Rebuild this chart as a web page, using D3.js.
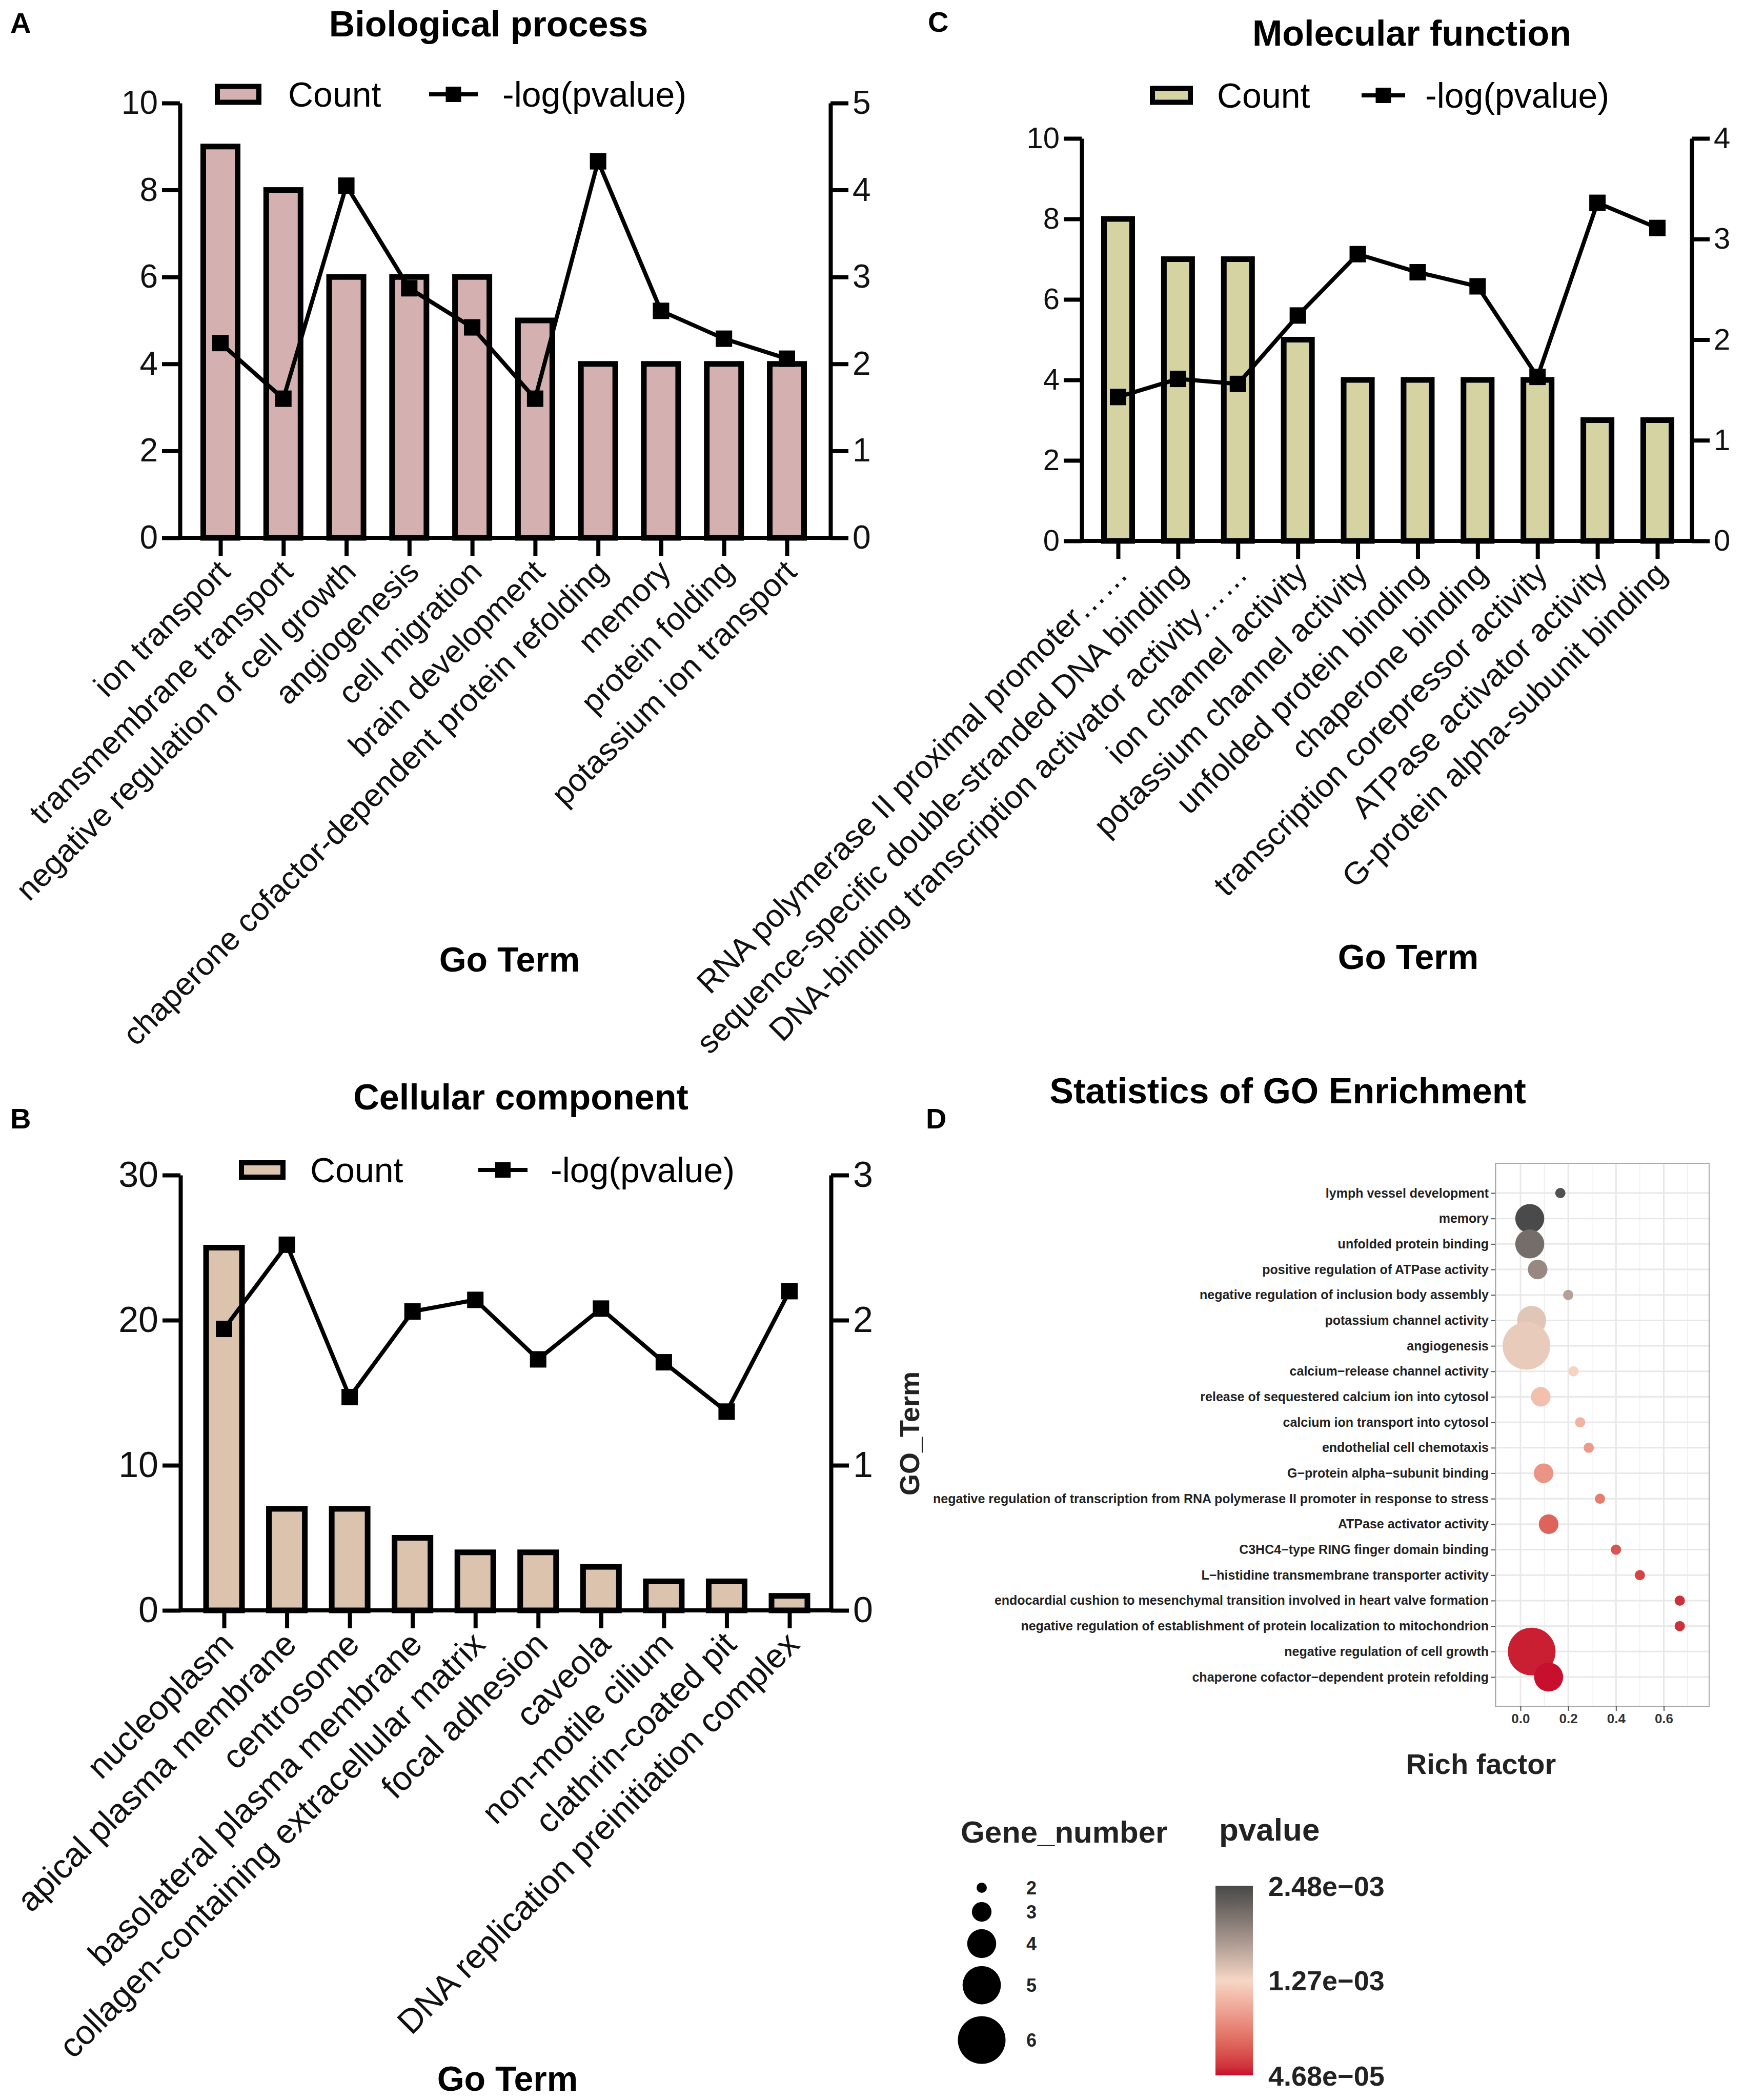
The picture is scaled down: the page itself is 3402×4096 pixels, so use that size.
<!DOCTYPE html>
<html>
<head>
<meta charset="UTF-8">
<script src="https://d3js.org/d3.v7.min.js"></script>
<style>
  body { margin: 0; background: #fff; }
  svg { display: block; font-family: "Liberation Sans", Arial, sans-serif; }
</style>
</head>
<body>
<div id="fig"></div>
<script>
// ---- A: biological process
const bpTerms = ["ion transport", "transmembrane transport", "negative regulation of cell growth",
  "angiogenesis", "cell migration", "brain development", "chaperone cofactor-dependent protein refolding",
  "memory", "protein folding", "potassium ion transport"];
const bpCount = [9, 8, 6, 6, 6, 5, 4, 4, 4, 4];
const bpLogP = [2.24, 1.60, 4.05, 2.87, 2.42, 1.60, 4.33, 2.61, 2.29, 2.06];

// ---- B: cellular component
const ccTerms = ["nucleoplasm", "apical plasma membrane", "centrosome", "basolateral plasma membrane",
  "collagen-containing extracellular matrix", "focal adhesion", "caveola", "non-motile cilium",
  "clathrin-coated pit", "DNA replication preinitiation complex"];
const ccCount = [25, 7, 7, 5, 4, 4, 3, 2, 2, 1];
const ccLogP = [1.94, 2.52, 1.47, 2.06, 2.14, 1.73, 2.08, 1.71, 1.37, 2.20];

// ---- C: molecular function
const mfTerms = ["RNA polymerase II proximal promoter……", "sequence-specific double-stranded DNA binding",
  "DNA-binding transcription activator activity……", "ion channel activity", "potassium channel activity",
  "unfolded protein binding", "chaperone binding", "transcription corepressor activity",
  "ATPase activator activity", "G-protein alpha-subunit binding"];
const mfCount = [8, 7, 7, 5, 4, 4, 4, 4, 3, 3];
const mfLogP = [1.43, 1.61, 1.56, 2.24, 2.85, 2.67, 2.53, 1.63, 3.36, 3.11];

// ---- D: GO enrichment dot plot (top to bottom)
const goTerms = ["lymph vessel development", "memory", "unfolded protein binding",
  "positive regulation of ATPase activity", "negative regulation of inclusion body assembly",
  "potassium channel activity", "angiogenesis", "calcium−release channel activity",
  "release of sequestered calcium ion into cytosol", "calcium ion transport into cytosol",
  "endothelial cell chemotaxis", "G−protein alpha−subunit binding",
  "negative regulation of transcription from RNA polymerase II promoter in response to stress",
  "ATPase activator activity", "C3HC4−type RING finger domain binding",
  "L−histidine transmembrane transporter activity",
  "endocardial cushion to mesenchymal transition involved in heart valve formation",
  "negative regulation of establishment of protein localization to mitochondrion",
  "negative regulation of cell growth", "chaperone cofactor−dependent protein refolding"];
const goRich = [0.167, 0.039, 0.039, 0.072, 0.2, 0.047, 0.025, 0.222, 0.085, 0.25,
  0.286, 0.097, 0.333, 0.118, 0.4, 0.5, 0.667, 0.667, 0.047, 0.118];
const goGenes = [2, 4, 4, 3, 2, 4, 6, 2, 3, 2, 2, 3, 2, 3, 2, 2, 2, 2, 6, 4];
const goPval = [2.40e-3, 2.46e-3, 2.14e-3, 1.90e-3, 1.70e-3, 1.40e-3, 1.35e-3, 1.25e-3, 1.10e-3, 1.0e-3,
  8.2e-4, 7.8e-4, 6.2e-4, 4.4e-4, 3.5e-4, 2.5e-4, 1.5e-4, 1.5e-4, 8.5e-5, 4.68e-5];
const richTicks = [0, 0.2, 0.4, 0.6];
const richMinor = [-0.1, 0.1, 0.3, 0.5, 0.7];
const sizeBreaks = [2, 3, 4, 5, 6];
const pvalBreaks = [2.48e-3, 1.27e-3, 4.68e-5];
const pvalLabels = ["2.48e−03", "1.27e−03", "4.68e−05"];

const W = 3402, H = 4096;
const svg = d3.select("#fig").append("svg").attr("width", W).attr("height", H);
svg.append("rect").attr("width", W).attr("height", H).attr("fill", "#fff");

const SW = 11; // bar outline

function drawCombo(p) {
  const g = svg.append("g");
  const x = d3.scalePoint().domain(p.terms).range([p.x0, p.x1]);
  const yL = d3.scaleLinear().domain([0, p.leftMax]).range([p.yBot, p.yTop]);
  const yR = d3.scaleLinear().domain([0, p.rightMax]).range([p.yBot, p.yTop]);

  g.append("text").attr("x", p.letterX).attr("y", p.letterY)
    .attr("font-size", 56).attr("font-weight", "bold").text(p.letter);
  g.append("text").attr("x", p.titleX).attr("y", p.titleY).attr("text-anchor", "middle")
    .attr("font-size", 70).attr("font-weight", "bold").text(p.title);

  // bars
  g.selectAll("rect.bar").data(p.terms).join("rect").attr("class", "bar")
    .attr("x", d => x(d) - (p.barW - SW) / 2)
    .attr("y", (d, i) => yL(p.count[i]))
    .attr("width", p.barW - SW)
    .attr("height", (d, i) => p.yBot - yL(p.count[i]))
    .attr("fill", p.fill).attr("stroke", "#000").attr("stroke-width", SW);

  // axes
  const styleAxis = (ax, fs) => {
    ax.attr("font-family", null).attr("font-size", fs);
    ax.select(".domain").attr("stroke", "#000").attr("stroke-width", 8);
    ax.selectAll(".tick line").attr("stroke", "#000").attr("stroke-width", 8);
    ax.selectAll(".tick text").attr("fill", "#111");
  };
  const axL = g.append("g").attr("transform", `translate(${p.axL},0)`)
    .call(d3.axisLeft(yL).tickValues(p.leftTicks).tickFormat(d3.format("d"))
      .tickSize(35).tickSizeOuter(0).tickPadding(8));
  styleAxis(axL, p.tickFont);
  const axR = g.append("g").attr("transform", `translate(${p.axR},0)`)
    .call(d3.axisRight(yR).tickValues(p.rightTicks).tickFormat(d3.format("d"))
      .tickSize(35).tickSizeOuter(0).tickPadding(8));
  styleAxis(axR, p.tickFont);

  g.append("line").attr("x1", p.axL).attr("x2", p.axR).attr("y1", p.yBot).attr("y2", p.yBot)
    .attr("stroke", "#000").attr("stroke-width", 8);
  const axB = g.append("g").attr("transform", `translate(0,${p.yBot})`)
    .call(d3.axisBottom(x).tickSize(35).tickSizeOuter(0));
  axB.select(".domain").remove();
  axB.attr("font-family", null).attr("font-size", p.labelFont);
  axB.selectAll(".tick line").attr("stroke", "#000").attr("stroke-width", 8);
  axB.selectAll(".tick text").attr("fill", "#111")
    .attr("x", 0).attr("y", 0).attr("dy", null)
    .attr("text-anchor", "end")
    .attr("transform", `translate(${p.lblDx},${p.lblDy}) rotate(-45)`);

  // -log(pvalue) line
  const line = d3.line().x((d, i) => x(p.terms[i])).y(d => yR(d));
  g.append("path").datum(p.logp).attr("d", line)
    .attr("fill", "none").attr("stroke", "#000").attr("stroke-width", 8).attr("stroke-linejoin", "miter");
  g.selectAll("rect.mk").data(p.logp).join("rect").attr("class", "mk")
    .attr("x", (d, i) => x(p.terms[i]) - 16).attr("y", d => yR(d) - 16)
    .attr("width", 32).attr("height", 32).attr("fill", "#000");

  // legend
  const L = p.legend;
  g.append("rect").attr("x", L.boxX + 5).attr("y", L.cy - L.boxH / 2 + 5)
    .attr("width", L.boxW - 10).attr("height", L.boxH - 10)
    .attr("fill", p.fill).attr("stroke", "#000").attr("stroke-width", 10);
  g.append("text").attr("x", L.countX).attr("y", L.cy + 24).attr("font-size", 68).text("Count");
  g.append("line").attr("x1", L.lineX0).attr("x2", L.lineX1).attr("y1", L.cy).attr("y2", L.cy)
    .attr("stroke", "#000").attr("stroke-width", 8);
  g.append("rect").attr("x", (L.lineX0 + L.lineX1) / 2 - 15).attr("y", L.cy - 15)
    .attr("width", 30).attr("height", 30).attr("fill", "#000");
  g.append("text").attr("x", L.logX).attr("y", L.cy + 24).attr("font-size", 68).text("-log(pvalue)");

  g.append("text").attr("x", p.goX).attr("y", p.goY).attr("text-anchor", "middle")
    .attr("font-size", 68).attr("font-weight", "bold").text("Go Term");
}

drawCombo({
  letter: "A", letterX: 20, letterY: 64, title: "Biological process", titleX: 953, titleY: 71,
  terms: bpTerms, count: bpCount, logp: bpLogP, fill: "#d5b0b0",
  axL: 351, axR: 1620, yTop: 201, yBot: 1049, x0: 430, x1: 1535, barW: 78,
  leftMax: 10, leftTicks: [0, 2, 4, 6, 8, 10], rightMax: 5, rightTicks: [0, 1, 2, 3, 4, 5],
  tickFont: 64, labelFont: 62, lblDx: 22, lblDy: 70,
  legend: { boxX: 419, boxW: 91, boxH: 41, cy: 184, countX: 562, lineX0: 837, lineX1: 932, logX: 980 },
  goX: 994, goY: 1895
});

drawCombo({
  letter: "C", letterX: 1810, letterY: 62, title: "Molecular function", titleX: 2754, titleY: 89,
  terms: mfTerms, count: mfCount, logp: mfLogP, fill: "#d6d3a2",
  axL: 2110, axR: 3300, yTop: 270, yBot: 1055, x0: 2181, x1: 3233, barW: 66,
  leftMax: 10, leftTicks: [0, 2, 4, 6, 8, 10], rightMax: 4, rightTicks: [0, 1, 2, 3, 4],
  tickFont: 58, labelFont: 62, lblDx: 22, lblDy: 68,
  legend: { boxX: 2243, boxW: 84, boxH: 37, cy: 186, countX: 2374, lineX0: 2656, lineX1: 2741, logX: 2780 },
  goX: 2747, goY: 1890
});

drawCombo({
  letter: "B", letterX: 20, letterY: 2201, title: "Cellular component", titleX: 1016, titleY: 2164,
  terms: ccTerms, count: ccCount, logp: ccLogP, fill: "#dbc3ae",
  axL: 352, axR: 1621, yTop: 2292, yBot: 3141, x0: 437, x1: 1540, barW: 81,
  leftMax: 30, leftTicks: [0, 10, 20, 30], rightMax: 3, rightTicks: [0, 1, 2, 3],
  tickFont: 70, labelFont: 66, lblDx: 22, lblDy: 70,
  legend: { boxX: 466, boxW: 91, boxH: 38, cy: 2282, countX: 605, lineX0: 933, lineX1: 1029, logX: 1074 },
  goX: 990, goY: 4078
});

// ---- D: dot plot
const gd = svg.append("g");
const pL = 2917, pR = 3334, pT = 2269, pB = 3328;
const xD = d3.scaleLinear().domain([-0.105, 0.79]).range([pL, pR]);
const yD = d3.scalePoint().domain(goTerms).range([2327, 3271]);
const rD = d3.scaleLinear().domain([2, 6]).range([10, 46.5]);
const cD = d3.scaleLinear().domain([4.68e-5, (4.68e-5 + 2.48e-3) / 2, 2.48e-3])
  .range(["#c8102e", "#f6d6c6", "#484848"]).interpolate(d3.interpolateLab);

gd.append("text").attr("x", 1806).attr("y", 2201).attr("font-size", 56).attr("font-weight", "bold").text("D");
gd.append("text").attr("x", 2512).attr("y", 2152).attr("text-anchor", "middle")
  .attr("font-size", 70).attr("font-weight", "bold").text("Statistics of GO Enrichment");

gd.append("rect").attr("x", pL).attr("y", pT).attr("width", pR - pL).attr("height", pB - pT).attr("fill", "#fff");
gd.selectAll("line.vmin").data(richMinor).join("line").attr("class", "vmin")
  .attr("x1", d => xD(d)).attr("x2", d => xD(d)).attr("y1", pT).attr("y2", pB)
  .attr("stroke", "#eeeeee").attr("stroke-width", 1.5);
gd.selectAll("line.vmaj").data(richTicks).join("line").attr("class", "vmaj")
  .attr("x1", d => xD(d)).attr("x2", d => xD(d)).attr("y1", pT).attr("y2", pB)
  .attr("stroke", "#e8e8e8").attr("stroke-width", 3);
gd.selectAll("line.hmaj").data(goTerms).join("line").attr("class", "hmaj")
  .attr("x1", pL).attr("x2", pR).attr("y1", d => yD(d)).attr("y2", d => yD(d))
  .attr("stroke", "#e8e8e8").attr("stroke-width", 3);

gd.selectAll("circle.dot").data(goTerms).join("circle").attr("class", "dot")
  .attr("cx", (d, i) => xD(goRich[i])).attr("cy", d => yD(d))
  .attr("r", (d, i) => rD(goGenes[i])).attr("fill", (d, i) => cD(goPval[i]));

gd.append("rect").attr("x", pL).attr("y", pT).attr("width", pR - pL).attr("height", pB - pT)
  .attr("fill", "none").attr("stroke", "#aaaaaa").attr("stroke-width", 2);

const axDy = gd.append("g").attr("transform", `translate(${pL},0)`)
  .call(d3.axisLeft(yD).tickSize(9).tickPadding(4).tickSizeOuter(0));
axDy.select(".domain").remove();
axDy.attr("font-family", null).attr("font-size", 25).attr("font-weight", "bold");
axDy.selectAll(".tick line").attr("stroke", "#555").attr("stroke-width", 2);
axDy.selectAll(".tick text").attr("fill", "#222");

const axDx = gd.append("g").attr("transform", `translate(0,${pB})`)
  .call(d3.axisBottom(xD).tickValues(richTicks).tickFormat(d3.format(".1f")).tickSize(9).tickPadding(6).tickSizeOuter(0));
axDx.select(".domain").remove();
axDx.attr("font-family", null).attr("font-size", 26).attr("font-weight", "bold");
axDx.selectAll(".tick line").attr("stroke", "#555").attr("stroke-width", 2);
axDx.selectAll(".tick text").attr("fill", "#333");

gd.append("text").attr("x", 2889).attr("y", 3460).attr("text-anchor", "middle")
  .attr("font-size", 56).attr("font-weight", "bold").attr("fill", "#222").text("Rich factor");
gd.append("text").attr("transform", "translate(1793,2796) rotate(-90)").attr("text-anchor", "middle")
  .attr("font-size", 54).attr("font-weight", "bold").attr("fill", "#222").text("GO_Term");

// size legend
gd.append("text").attr("x", 1874).attr("y", 3594).attr("font-size", 60).attr("font-weight", "bold")
  .attr("fill", "#222").text("Gene_number");
const sizeYs = [3682, 3729, 3791, 3872, 3979];
gd.selectAll("circle.leg").data(sizeBreaks).join("circle").attr("class", "leg")
  .attr("cx", 1915).attr("cy", (d, i) => sizeYs[i]).attr("r", d => rD(d)).attr("fill", "#000");
gd.selectAll("text.leg").data(sizeBreaks).join("text").attr("class", "leg")
  .attr("x", 2002).attr("y", (d, i) => sizeYs[i] + 13).attr("font-size", 36).attr("font-weight", "bold")
  .attr("fill", "#222").text(d => d);

// colour bar
gd.append("text").attr("x", 2378).attr("y", 3590).attr("font-size", 62).attr("font-weight", "bold")
  .attr("fill", "#222").text("pvalue");
const cbTop = 3678, cbBot = 4048;
const cbY = d3.scaleLinear().domain([4.68e-5, 2.48e-3]).range([cbBot, cbTop]);
const grad = svg.append("defs").append("linearGradient").attr("id", "pgrad")
  .attr("x1", 0).attr("x2", 0).attr("y1", 1).attr("y2", 0);
grad.selectAll("stop").data(d3.range(0, 1.0001, 0.05)).join("stop")
  .attr("offset", d => d)
  .attr("stop-color", d => cD(4.68e-5 + d * (2.48e-3 - 4.68e-5)));
gd.append("rect").attr("x", 2371).attr("y", cbTop).attr("width", 73).attr("height", cbBot - cbTop)
  .attr("fill", "url(#pgrad)");
gd.selectAll("text.cb").data(pvalBreaks).join("text").attr("class", "cb")
  .attr("x", 2474).attr("y", d => cbY(d) + 20).attr("font-size", 54).attr("font-weight", "bold")
  .attr("fill", "#222").text((d, i) => pvalLabels[i]);
</script>
</body>
</html>
